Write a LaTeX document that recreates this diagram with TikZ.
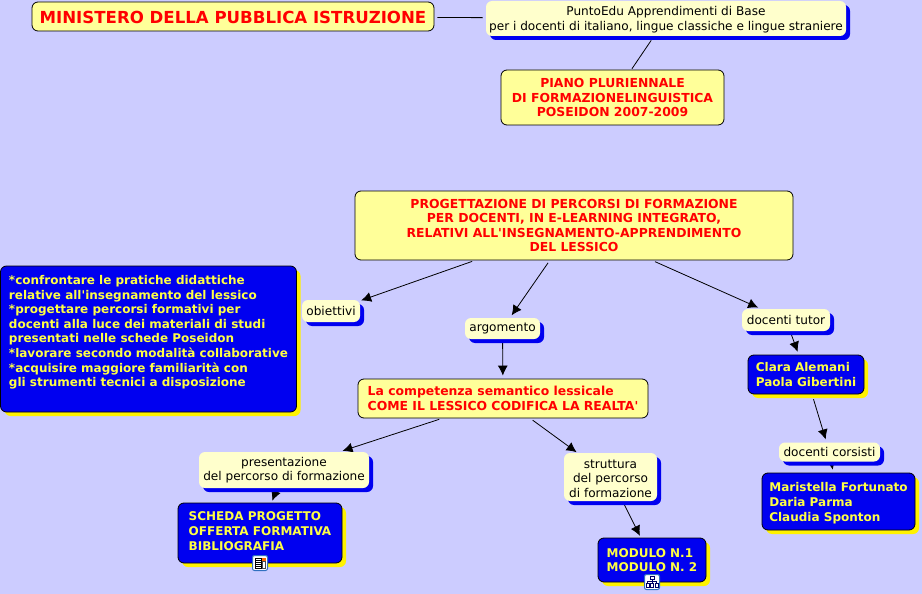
\documentclass[tikz,border=0pt]{standalone}
\usepackage{fontspec}
\setmainfont{DejaVu Sans}[Ligatures=TeXOff]
\usetikzlibrary{shadows,arrows.meta,backgrounds}
\pgfdeclarelayer{paper}
\pgfsetlayers{paper,background,main}
\definecolor{bgc}{HTML}{CCCCFF}
\definecolor{paley}{HTML}{FFFF99}
\definecolor{cream}{HTML}{FFFFCC}
\definecolor{deepb}{HTML}{0000F0}
\definecolor{yel}{HTML}{FFFF44}
\definecolor{iconb}{HTML}{3070C0}
\tikzset{
  base/.style={rounded corners=6pt,inner sep=0pt,align=center},
  title/.style={base,draw=black,line width=0.8pt,fill=paley,text=red,font=\fontsize{12.4}{14.6}\selectfont\bfseries,execute at begin node={\rule{0pt}{12.5pt}}},
  link/.style={base,fill=cream,text=black,font=\fontsize{12.1}{14.6}\selectfont,
    general shadow={fill=deepb,shadow xshift=4pt,shadow yshift=-4pt}},
  res/.style={base,draw=black,line width=0.8pt,fill=deepb,text=yel,align=left,font=\fontsize{12}{14.6}\selectfont\bfseries,
    general shadow={fill=yellow,shadow xshift=4pt,shadow yshift=-4pt}},
  plain/.style={black,line width=0.8pt,shorten <=3pt,shorten >=3pt},
  arr/.style={plain,-{Latex[length=10pt,width=10pt]}},
  iconbox/.style={draw=iconb,fill=white,rounded corners=2pt,line width=1pt,minimum size=15pt,inner sep=0pt}
}
\begin{document}
\begin{tikzpicture}[x=1pt,y=-1pt]
\begin{pgfonlayer}{paper}
\fill[bgc] (0,0) rectangle (922,594);
\end{pgfonlayer}
\useasboundingbox (0,0) rectangle (922,594);
\node[title,minimum width=402pt,minimum height=29pt,font=\fontsize{16.6}{18}\selectfont\bfseries,execute at begin node={\rule{0pt}{14.5pt}}] (min) at (233,16.5) {MINISTERO DELLA PUBBLICA ISTRUZIONE};
\node[link,minimum width=360pt,minimum height=35pt] (punto) at (666,18.5) {\rule{0pt}{11.5pt}PuntoEdu Apprendimenti di Base\\per i docenti di italiano, lingue classiche e lingue straniere};
\node[title,minimum width=223pt,minimum height=55pt] (piano) at (612.5,97.5) {PIANO PLURIENNALE\\DI FORMAZIONELINGUISTICA\\POSEIDON 2007-2009};
\node[title,minimum width=438pt,minimum height=69pt] (prog) at (574,225.5) {PROGETTAZIONE DI PERCORSI DI FORMAZIONE\\PER DOCENTI, IN E-LEARNING INTEGRATO,\\RELATIVI ALL'INSEGNAMENTO-APPRENDIMENTO\\DEL LESSICO};
\node[res,minimum width=296pt,minimum height=146pt] (obtxt) at (148.5,339) {*confrontare le pratiche didattiche\\relative all'insegnamento del lessico\\*progettare percorsi formativi per\\docenti alla luce dei materiali di studi\\presentati nelle schede Poseidon\\*lavorare secondo modalità collaborative\\*acquisire maggiore familiarità con\\gli strumenti tecnici a disposizione\\[1.4pt]};
\node[link,minimum width=58pt,minimum height=22pt] (obi) at (331,311) {obiettivi};
\node[link,minimum width=75pt,minimum height=21pt] (arg) at (502.5,328.5) {argomento};
\node[link,minimum width=88pt,minimum height=22pt] (tut) at (786,320) {docenti tutor};
\node[title,minimum width=290pt,minimum height=39pt,align=left] (comp) at (503,398.5) {La competenza semantico lessicale\\COME IL LESSICO CODIFICA LA REALTA'};
\node[link,minimum width=170pt,minimum height=36pt] (pres) at (284,470) {presentazione\\del percorso di formazione};
\node[link,minimum width=93pt,minimum height=48pt] (strut) at (610.5,477) {\rule{0pt}{12pt}struttura\\del percorso\\di formazione};
\node[res,minimum width=164pt,minimum height=60pt] (sch) at (260,533) {SCHEDA PROGETTO\\OFFERTA FORMATIVA\\BIBLIOGRAFIA\\[-10.6pt]};
\node[res,minimum width=108pt,minimum height=44pt] (mod) at (652,560) {MODULO N.1\\MODULO N. 2};
\node[res,minimum width=116pt,minimum height=39pt] (clara) at (806,374.5) {Clara Alemani\\Paola Gibertini};
\node[link,minimum width=101pt,minimum height=19pt] (cors) at (829.5,452) {docenti corsisti};
\node[res,minimum width=153pt,minimum height=57pt] (mar) at (838.5,501.5) {\rule{0pt}{12.5pt}Maristella Fortunato\\Daria Parma\\Claudia Sponton};
% connectors, under the nodes and their shadows
\begin{scope}[on background layer]
\draw[plain] (min) -- (punto);
\draw[plain,shorten <=5pt,shorten >=1pt] (punto) -- (piano);
\draw[arr,shorten >=1pt] (prog) -- (obi);
\draw[arr] (prog) -- (arg);
\draw[arr] (prog) -- (tut);
\draw[arr,shorten <=4pt] (arg) -- (comp);
\draw[arr] (comp) -- (pres);
\draw[arr,shorten >=1pt] (comp) -- (strut);
\draw[arr] (tut) -- (clara);
\draw[arr,shorten <=5pt] (clara) -- (cors);
\draw[arr] (cors) -- (mar);
\draw[arr,shorten <=4pt,shorten >=2pt] (pres) -- (sch);
\draw[arr,shorten <=4pt,shorten >=2pt] (strut) -- (mod);
\end{scope}
% icons
\node[iconbox] (ic1) at (260,563) {};
\fill[black] (254.5,557.5) rectangle (262,568.5);
\fill[white] (255.5,558.5) rectangle (261,567.5);
\foreach \yy in {560,562,564,566}{\draw[black,line width=0.6pt] (256,\yy) -- (260.5,\yy);}
\fill[orange!80!red] (262,557.5) rectangle (265.5,561);
\fill[black!70] (262,561) rectangle (265.5,568.5);
\fill[white] (263,562) rectangle (264.5,567.5);
\node[iconbox] (ic2) at (652,582) {};
\draw[blue!40!black,line width=0.7pt] (650,576.5) rectangle (654,579.5)
  (652,579.5) -- (652,581.5) (647.5,583.5) -- (647.5,581.5) -- (656.5,581.5) -- (656.5,583.5)
  (652,581.5) -- (652,583.5)
  (646,583.5) rectangle (649,587) (650.5,583.5) rectangle (653.5,587) (655,583.5) rectangle (658,587);
\end{tikzpicture}
\end{document}
